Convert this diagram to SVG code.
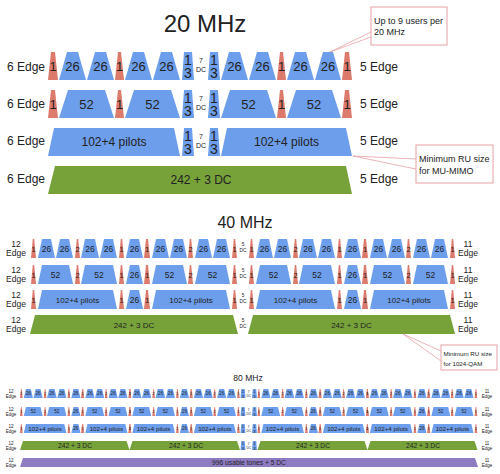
<svg xmlns="http://www.w3.org/2000/svg" width="500" height="474" viewBox="0 0 500 474">
<style>
text{font-family:"Liberation Sans",Arial,sans-serif;fill:#222}
.m{text-anchor:middle}
.b{fill:#6d9eeb}
.r{fill:#dc7a6c}
.g{fill:#77a23a}
.p{fill:#8e7cc3}
.note{fill:#fff;stroke:#e6a1a6;stroke-width:1}
.lead{stroke:#e6a1a6;stroke-width:0.8;fill:none}
.s24{font-size:24px}
.s14{font-size:14px}
.s13{font-size:13px}
.s12{font-size:12px}
.s9{font-size:9px}
.s7{font-size:7px}
.a{font-size:8.5px}
.ar{font-size:7.5px}
.ap{font-size:8px}
.e4{font-size:4.8px}
.u{font-size:4.6px}
.up{font-size:6.2px}
.ur{font-size:3.8px}
.u7{font-size:6.7px}
</style>
<defs>
<g id="reds4">
<polygon class="r" points="1.8,0 3.2,0 5,19 0,19"/>
<polygon class="r" points="89.8,0 91.2,0 93,19 88,19"/>
<polygon class="r" points="115,0 117,0 119,19 113,19"/>
<polygon class="r" points="202.8,0 204.2,0 206,19 201,19"/>
</g>
<g id="reds2">
<polygon class="r" points="45.8,0 47.2,0 49,19 44,19"/>
<polygon class="r" points="158.8,0 160.2,0 162,19 157,19"/>
</g>
<polygon id="mid26" class="b" points="99,0 108,0 112,19 95,19"/>
<g id="s1">
<use href="#reds4"/><use href="#reds2"/><use href="#mid26"/>
<polygon class="b" points="11,0 20,0 24,19 7,19"/>
<polygon class="b" points="29,0 38,0 42,19 25,19"/>
<polygon class="b" points="54,0 64,0 68,19 50,19"/>
<polygon class="b" points="73,0 82,0 86,19 69,19"/>
<polygon class="b" points="125,0 134,0 138,19 121,19"/>
<polygon class="b" points="143,0 152,0 156,19 139,19"/>
<polygon class="b" points="168,0 177,0 181,19 164,19"/>
<polygon class="b" points="186,0 195,0 199,19 182,19"/>
</g>
<g id="s2">
<use href="#reds4"/><use href="#reds2"/><use href="#mid26"/>
<polygon class="b" points="11,0 38,0 42,19 7,19"/>
<polygon class="b" points="54,0 82,0 86,19 50,19"/>
<polygon class="b" points="125,0 152,0 156,19 121,19"/>
<polygon class="b" points="168,0 195,0 199,19 164,19"/>
</g>
<g id="s3">
<use href="#reds4"/><use href="#mid26"/>
<polygon class="b" points="11,0 82,0 86,19 7,19"/>
<polygon class="b" points="125,0 195,0 199,19 121,19"/>
</g>
<g id="t1" class="m">
<text class="a" x="15.5" y="13">26</text><text class="a" x="33.5" y="13">26</text>
<text class="a" x="59" y="13">26</text><text class="a" x="77.5" y="13">26</text>
<text class="a" x="103.5" y="13">26</text>
<text class="a" x="129.5" y="13">26</text><text class="a" x="147.5" y="13">26</text>
<text class="a" x="172.5" y="13">26</text><text class="a" x="190.5" y="13">26</text>
<text class="ar" x="2.5" y="12.5">1</text><text class="ar" x="46.5" y="12.5">2</text>
<text class="ar" x="90.5" y="12.5">1</text><text class="ar" x="116" y="12.5">1</text>
<text class="ar" x="159.5" y="12.5">2</text><text class="ar" x="203.5" y="12.5">1</text>
</g>
<g id="t2" class="m">
<text class="a" x="24.5" y="13">52</text><text class="a" x="68" y="13">52</text>
<text class="a" x="103.5" y="13">26</text>
<text class="a" x="138.5" y="13">52</text><text class="a" x="181.5" y="13">52</text>
<text class="ar" x="2.5" y="12.5">1</text><text class="ar" x="46.5" y="12.5">2</text>
<text class="ar" x="90.5" y="12.5">1</text><text class="ar" x="116" y="12.5">1</text>
<text class="ar" x="159.5" y="12.5">2</text><text class="ar" x="203.5" y="12.5">1</text>
</g>
<g id="t3" class="m">
<text class="ap" x="46.5" y="12.5">102+4 pilots</text>
<text class="a" x="103.5" y="13">26</text>
<text class="ap" x="160" y="12.5">102+4 pilots</text>
<text class="ar" x="2.5" y="12.5">1</text><text class="ar" x="90.5" y="12.5">1</text>
<text class="ar" x="116" y="12.5">1</text><text class="ar" x="203.5" y="12.5">1</text>
</g>
<g id="u1" class="m">
<text class="u" x="8.37" y="6.3">26</text><text class="u" x="18.09" y="6.3">26</text>
<text class="u" x="31.86" y="6.3">26</text><text class="u" x="41.85" y="6.3">26</text>
<text class="u" x="55.89" y="6.3">26</text>
<text class="u" x="69.93" y="6.3">26</text><text class="u" x="79.65" y="6.3">26</text>
<text class="u" x="93.15" y="6.3">26</text><text class="u" x="102.87" y="6.3">26</text>
<text class="ur" x="1.35" y="6.2">1</text><text class="ur" x="25.11" y="6.2">2</text>
<text class="ur" x="48.87" y="6.2">1</text><text class="ur" x="62.64" y="6.2">1</text>
<text class="ur" x="86.13" y="6.2">2</text><text class="ur" x="109.89" y="6.2">1</text>
</g>
<g id="u2" class="m">
<text class="u" x="13.23" y="6.3">52</text><text class="u" x="36.72" y="6.3">52</text>
<text class="u" x="55.89" y="6.3">26</text>
<text class="u" x="74.79" y="6.3">52</text><text class="u" x="98.01" y="6.3">52</text>
<text class="ur" x="1.35" y="6.2">1</text><text class="ur" x="25.11" y="6.2">2</text>
<text class="ur" x="48.87" y="6.2">1</text><text class="ur" x="62.64" y="6.2">1</text>
<text class="ur" x="86.13" y="6.2">2</text><text class="ur" x="109.89" y="6.2">1</text>
</g>
<g id="u3" class="m">
<text class="up" x="25.11" y="6.7">102+4 pilots</text>
<text class="u" x="55.89" y="6.3">26</text>
<text class="up" x="86.4" y="6.7">102+4 pilots</text>
<text class="ur" x="1.35" y="6.2">1</text><text class="ur" x="48.87" y="6.2">1</text>
<text class="ur" x="62.64" y="6.2">1</text><text class="ur" x="109.89" y="6.2">2</text>
</g>
<g id="ctr20">
<polygon class="b" points="184,0 192,0 194,28 182,28"/>
<polygon class="b" points="210,0 218,0 220,28 208,28"/>
<g class="m">
<text class="s14" x="188" y="13">1</text><text class="s14" x="188" y="26">3</text>
<text class="s14" x="214" y="13">1</text><text class="s14" x="214" y="26">3</text>
<text class="s7" x="201" y="11">7</text><text class="s7" x="201" y="20">DC</text>
</g>
</g>
<g id="ctr80">
<polygon class="b" points="241.3,0 244.7,0 245.5,9 240.5,9"/>
<polygon class="b" points="252.8,0 256.2,0 257,9 252,9"/>
<g class="m" style="font-size:4.2px">
<text x="243" y="4.2">1</text><text x="243" y="8.5">3</text>
<text x="254.5" y="4.2">1</text><text x="254.5" y="8.5">3</text>
<text x="248.7" y="3.6" style="font-size:3.2px">7</text><text x="248.7" y="7.6" style="font-size:3.2px">DC</text>
</g>
</g>
<g id="dc40" class="m">
<text class="e4" x="243" y="7">5</text><text class="e4" x="243" y="12.5">DC</text>
</g>
<g id="e40" class="m">
<text class="a" x="16" y="8">12</text><text class="a" x="16" y="16.5">Edge</text>
</g>
<g id="e40r" class="m">
<text class="a" x="468" y="8">11</text><text class="a" x="468" y="16.5">Edge</text>
</g>
<g id="e80" class="m" style="font-size:4.5px">
<text x="11" y="4.2">12</text><text x="11" y="8.5">Edge</text>
</g>
<g id="e80r" class="m" style="font-size:4.5px">
<text x="487" y="4.2">11</text><text x="487" y="8.5">Edge</text>
</g>
</defs>

<rect width="500" height="474" fill="#fff"/>

<!-- 20 MHz -->
<g id="mhz20">
<text class="m s24" x="205" y="32">20 MHz</text>
<g id="r20-1">
<text class="s12" x="7" y="71">6 Edge</text>
<polygon class="r" points="51,52 55,52 58,80 48,80"/>
<polygon class="b" points="67,52 78,52 86,80 59,80"/>
<polygon class="b" points="95,52 106,52 114,80 87,80"/>
<polygon class="r" points="118,52 121,52 124,80 115,80"/>
<polygon class="b" points="133,52 144,52 152,80 125,80"/>
<polygon class="b" points="161,52 172,52 180,80 153,80"/>
<use href="#ctr20" y="52"/>
<polygon class="b" points="229,52 240,52 248,80 221,80"/>
<polygon class="b" points="257,52 268,52 276,80 249,80"/>
<polygon class="r" points="280,52 283,52 286,80 277,80"/>
<polygon class="b" points="295,52 306,52 314,80 287,80"/>
<polygon class="b" points="323,52 333,52 341,80 315,80"/>
<polygon class="r" points="345,52 349,52 352,80 342,80"/>
<g class="m s13">
<text x="53" y="71">1</text><text x="119.5" y="71">1</text><text x="281.5" y="71">1</text><text x="347" y="71">1</text>
<text x="72.5" y="71">26</text><text x="100.5" y="71">26</text><text x="138.5" y="71">26</text><text x="166.5" y="71">26</text>
<text x="234.5" y="71">26</text><text x="262.5" y="71">26</text><text x="300.5" y="71">26</text><text x="328" y="71">26</text>
</g>
<text class="s12" x="360" y="71">5 Edge</text>
</g>
<g id="r20-2">
<text class="s12" x="7" y="108">6 Edge</text>
<polygon class="r" points="51,90 55,90 58,118 48,118"/>
<polygon class="b" points="68,90 105,90 114,118 59,118"/>
<polygon class="r" points="118,90 121,90 124,118 115,118"/>
<polygon class="b" points="134,90 171,90 180,118 125,118"/>
<use href="#ctr20" y="90"/>
<polygon class="b" points="230,90 267,90 276,118 221,118"/>
<polygon class="r" points="280,90 283,90 286,118 277,118"/>
<polygon class="b" points="296,90 332,90 341,118 287,118"/>
<polygon class="r" points="345,90 349,90 352,118 342,118"/>
<g class="m s13">
<text x="53" y="109">1</text><text x="119.5" y="109">1</text><text x="281.5" y="109">1</text><text x="347" y="109">1</text>
<text x="86.5" y="109">52</text><text x="152.5" y="109">52</text><text x="248.5" y="109">52</text><text x="314" y="109">52</text>
</g>
<text class="s12" x="360" y="108">5 Edge</text>
</g>
<g id="r20-3">
<text class="s12" x="7" y="145">6 Edge</text>
<polygon class="b" points="54,128 174,128 180,156 48,156"/>
<use href="#ctr20" y="128"/>
<polygon class="b" points="227,128 346,128 352,156 221,156"/>
<g class="m s12">
<text x="114" y="146">102+4 pilots</text><text x="286.5" y="146">102+4 pilots</text>
</g>
<text class="s12" x="360" y="145">5 Edge</text>
</g>
<g id="r20-4">
<text class="s12" x="7" y="183">6 Edge</text>
<polygon class="g" points="55,166 346,166 352,194 48,194"/>
<text class="m s12" x="201" y="184">242 + 3 DC</text>
<text class="s12" x="360" y="183">5 Edge</text>
</g>
<g id="note-users">
<rect class="note" x="371" y="7" width="76" height="38"/>
<text class="s9" x="374" y="24">Up to 9 users per</text>
<text class="s9" x="374" y="35">20 MHz</text>
</g>
<g id="note-mumimo">
<rect class="note" x="416" y="145" width="77" height="38"/>
<text class="s9" x="419" y="162">Minimum RU size</text>
<text class="s9" x="419" y="174">for MU-MIMO</text>
</g>
</g>

<!-- 40 MHz -->
<g id="mhz40">
<text class="m" style="font-size:16px" x="245" y="228">40 MHz</text>
<g id="r40-1">
<use href="#e40" y="239"/><use href="#e40r" y="239"/>
<use href="#s1" x="31" y="239"/><use href="#s1" x="249" y="239"/>
<use href="#t1" x="31" y="239"/><use href="#t1" x="249" y="239"/>
<use href="#dc40" y="239"/>
</g>
<g id="r40-2">
<use href="#e40" y="265"/><use href="#e40r" y="265"/>
<use href="#s2" x="31" y="265"/><use href="#s2" x="249" y="265"/>
<use href="#t2" x="31" y="265"/><use href="#t2" x="249" y="265"/>
<use href="#dc40" y="265"/>
</g>
<g id="r40-3">
<use href="#e40" y="290"/><use href="#e40r" y="290"/>
<use href="#s3" x="31" y="290"/><use href="#s3" x="249" y="290"/>
<use href="#t3" x="31" y="290"/><use href="#t3" x="249" y="290"/>
<use href="#dc40" y="290"/>
</g>
<g id="r40-4">
<use href="#e40" y="315"/><use href="#e40r" y="315"/>
<polygon class="g" points="35,315 233,315 238,334 30,334"/>
<polygon class="g" points="253,315 450,315 455,334 248,334"/>
<text class="m ap" x="134" y="328">242 + 3 DC</text>
<text class="m ap" x="351.5" y="328">242 + 3 DC</text>
<use href="#dc40" y="315"/>
</g>
<g id="note-qam">
<rect class="note" x="441" y="345" width="56" height="25"/>
<text x="443.5" y="356" style="font-size:6.2px">Minimum RU size</text>
<text x="443.5" y="366" style="font-size:6.2px">for 1024-QAM</text>
</g>
</g>

<!-- 80 MHz -->
<g id="mhz80">
<text class="m" style="font-size:8.5px" x="248" y="381">80 MHz</text>
<g id="r80-1">
<use href="#e80" y="389"/><use href="#e80r" y="389"/>
<use href="#s1" transform="translate(20,389) scale(0.54,0.4737)"/>
<use href="#s1" transform="translate(128.54,389) scale(0.54,0.4737)"/>
<use href="#s1" transform="translate(257.5,389) scale(0.54,0.4737)"/>
<use href="#s1" transform="translate(366.04,389) scale(0.54,0.4737)"/>
<use href="#u1" x="20" y="389"/><use href="#u1" x="128.54" y="389"/>
<use href="#u1" x="257.5" y="389"/><use href="#u1" x="366.04" y="389"/>
<use href="#ctr80" y="389"/>
</g>
<g id="r80-2">
<use href="#e80" y="407"/><use href="#e80r" y="407"/>
<use href="#s2" transform="translate(20,407) scale(0.54,0.4737)"/>
<use href="#s2" transform="translate(128.54,407) scale(0.54,0.4737)"/>
<use href="#s2" transform="translate(257.5,407) scale(0.54,0.4737)"/>
<use href="#s2" transform="translate(366.04,407) scale(0.54,0.4737)"/>
<use href="#u2" x="20" y="407"/><use href="#u2" x="128.54" y="407"/>
<use href="#u2" x="257.5" y="407"/><use href="#u2" x="366.04" y="407"/>
<use href="#ctr80" y="407"/>
</g>
<g id="r80-3">
<use href="#e80" y="424"/><use href="#e80r" y="424"/>
<use href="#s3" transform="translate(20,424) scale(0.54,0.4737)"/>
<use href="#s3" transform="translate(128.54,424) scale(0.54,0.4737)"/>
<use href="#s3" transform="translate(257.5,424) scale(0.54,0.4737)"/>
<use href="#s3" transform="translate(366.04,424) scale(0.54,0.4737)"/>
<use href="#u3" x="20" y="424"/><use href="#u3" x="128.54" y="424"/>
<use href="#u3" x="257.5" y="424"/><use href="#u3" x="366.04" y="424"/>
<use href="#ctr80" y="424"/>
</g>
<g id="r80-4">
<use href="#e80" y="441"/><use href="#e80r" y="441"/>
<polygon class="g" points="23,441 126.5,441 129.5,450 20,450"/>
<polygon class="g" points="132.5,441 237,441 240,450 129.5,450"/>
<polygon class="g" points="260.5,441 364.5,441 367.5,450 257.5,450"/>
<polygon class="g" points="370.5,441 474.5,441 477.5,450 367.5,450"/>
<g class="m u7">
<text x="75" y="448">242 + 3 DC</text><text x="186" y="448">242 + 3 DC</text>
<text x="313" y="448">242 + 3 DC</text><text x="423" y="448">242 + 3 DC</text>
</g>
<use href="#ctr80" y="441"/>
</g>
<g id="r80-5">
<use href="#e80" y="458"/><use href="#e80r" y="458"/>
<polygon class="p" points="23,458 475,458 478,467 20,467"/>
<text class="m u7" x="249" y="465">996 usable tones + 5 DC</text>
</g>
</g>

<g id="connectors">
<polyline class="lead" points="371,32 330,52 371,37"/>
<polyline class="lead" points="416,159 353,156 416,169"/>
<polyline class="lead" points="441,351 403,334 441,361"/>
</g>
</svg>
